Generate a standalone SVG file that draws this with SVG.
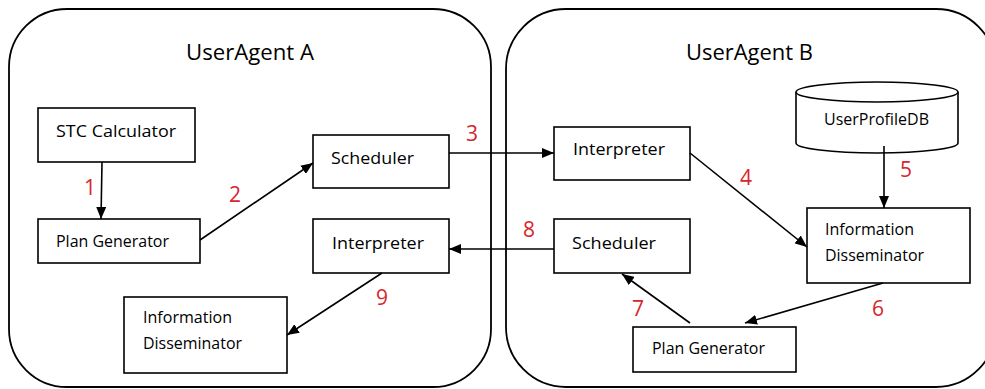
<svg xmlns="http://www.w3.org/2000/svg" width="985" height="389" viewBox="0 0 985 389">
  <defs>
    <marker id="arrow" viewBox="0 0 12 10" refX="12" refY="5" markerWidth="12" markerHeight="10" markerUnits="userSpaceOnUse" orient="auto">
      <path d="M0,0 L12,5 L0,10 z" fill="#000"/>
    </marker>
  </defs>
  <style>
    .agent { fill: #fff; stroke: #000; stroke-width: 1.8; }
    .box { fill: #fff; stroke: #000; stroke-width: 1.6; }
    text { font-family: "Open Sans", "Noto Sans", sans-serif; }
    .title { font-size: 22px; fill: #000; }
    .lbl { font-size: 17px; fill: #000; }
    .sm { font-size: 15.5px; fill: #000; }
    .num { font-size: 21px; fill: #d7262b; text-anchor: middle; }
    .edge { stroke: #000; stroke-width: 1.6; fill: none; marker-end: url(#arrow); }
  </style>

  <!-- agent containers -->
  <g id="useragent-a">
    <rect class="agent" x="9" y="9" width="482" height="378" rx="58" ry="58"/>
    <text class="title" x="186" y="60" textLength="128" lengthAdjust="spacingAndGlyphs">UserAgent A</text>
  </g>
  <g id="useragent-b">
    <rect class="agent" x="506" y="9" width="490" height="378" rx="60" ry="60"/>
    <text class="title" x="686" y="60" textLength="127" lengthAdjust="spacingAndGlyphs">UserAgent B</text>
  </g>

  <!-- UserAgent A components -->
  <g id="a-stc-calculator">
    <rect class="box" x="38" y="108" width="157" height="54"/>
    <text class="lbl" x="56" y="137" textLength="120" lengthAdjust="spacingAndGlyphs">STC Calculator</text>
  </g>
  <g id="a-plan-generator">
    <rect class="box" x="38" y="219" width="162" height="44"/>
    <text class="sm" x="56" y="247" textLength="113" lengthAdjust="spacingAndGlyphs">Plan Generator</text>
  </g>
  <g id="a-scheduler">
    <rect class="box" x="313" y="135" width="136" height="53"/>
    <text class="lbl" x="331" y="164" textLength="83" lengthAdjust="spacingAndGlyphs">Scheduler</text>
  </g>
  <g id="a-interpreter">
    <rect class="box" x="313" y="219" width="136" height="54"/>
    <text class="lbl" x="332" y="249" textLength="92" lengthAdjust="spacingAndGlyphs">Interpreter</text>
  </g>
  <g id="a-information-disseminator">
    <rect class="box" x="124" y="297" width="163" height="76"/>
    <text class="sm" x="143" y="323" textLength="89" lengthAdjust="spacingAndGlyphs">Information</text>
    <text class="sm" x="143" y="349" textLength="99" lengthAdjust="spacingAndGlyphs">Disseminator</text>
  </g>

  <!-- UserAgent B components -->
  <g id="b-interpreter">
    <rect class="box" x="554" y="127" width="136" height="53"/>
    <text class="lbl" x="573" y="155" textLength="92" lengthAdjust="spacingAndGlyphs">Interpreter</text>
  </g>
  <g id="b-userprofiledb">
    <path class="box" d="M796,92 L796,143 A81,10 0 0 0 958,143 L958,92"/>
    <ellipse class="box" cx="877" cy="92" rx="81" ry="10"/>
    <text class="sm" x="824" y="125" textLength="105" lengthAdjust="spacingAndGlyphs">UserProfileDB</text>
  </g>
  <g id="b-information-disseminator">
    <rect class="box" x="807" y="208" width="163" height="75"/>
    <text class="sm" x="825" y="235" textLength="89" lengthAdjust="spacingAndGlyphs">Information</text>
    <text class="sm" x="825" y="261" textLength="99" lengthAdjust="spacingAndGlyphs">Disseminator</text>
  </g>
  <g id="b-scheduler">
    <rect class="box" x="554" y="219" width="136" height="54"/>
    <text class="lbl" x="572" y="249" textLength="84" lengthAdjust="spacingAndGlyphs">Scheduler</text>
  </g>
  <g id="b-plan-generator">
    <rect class="box" x="633" y="327" width="163" height="45"/>
    <text class="sm" x="652" y="354" textLength="113" lengthAdjust="spacingAndGlyphs">Plan Generator</text>
  </g>

  <!-- numbered message flow -->
  <g id="connectors">
    <line class="edge" x1="102" y1="162" x2="101" y2="219"/>
    <line class="edge" x1="200" y1="240" x2="313" y2="163"/>
    <line class="edge" x1="449" y1="153" x2="554" y2="153"/>
    <line class="edge" x1="690" y1="153" x2="807" y2="247"/>
    <line class="edge" x1="884" y1="146" x2="884" y2="208"/>
    <line class="edge" x1="883" y1="283" x2="745" y2="323"/>
    <line class="edge" x1="690" y1="323" x2="622" y2="274"/>
    <line class="edge" x1="554" y1="249" x2="449" y2="249"/>
    <line class="edge" x1="382" y1="273" x2="287" y2="335"/>
  </g>
  <g id="step-numbers">
    <text class="num" x="90" y="195">1</text>
    <text class="num" x="235" y="202">2</text>
    <text class="num" x="472" y="141">3</text>
    <text class="num" x="746" y="185">4</text>
    <text class="num" x="906" y="177">5</text>
    <text class="num" x="878" y="316">6</text>
    <text class="num" x="638" y="316">7</text>
    <text class="num" x="529" y="237">8</text>
    <text class="num" x="382" y="305">9</text>
  </g>
</svg>
